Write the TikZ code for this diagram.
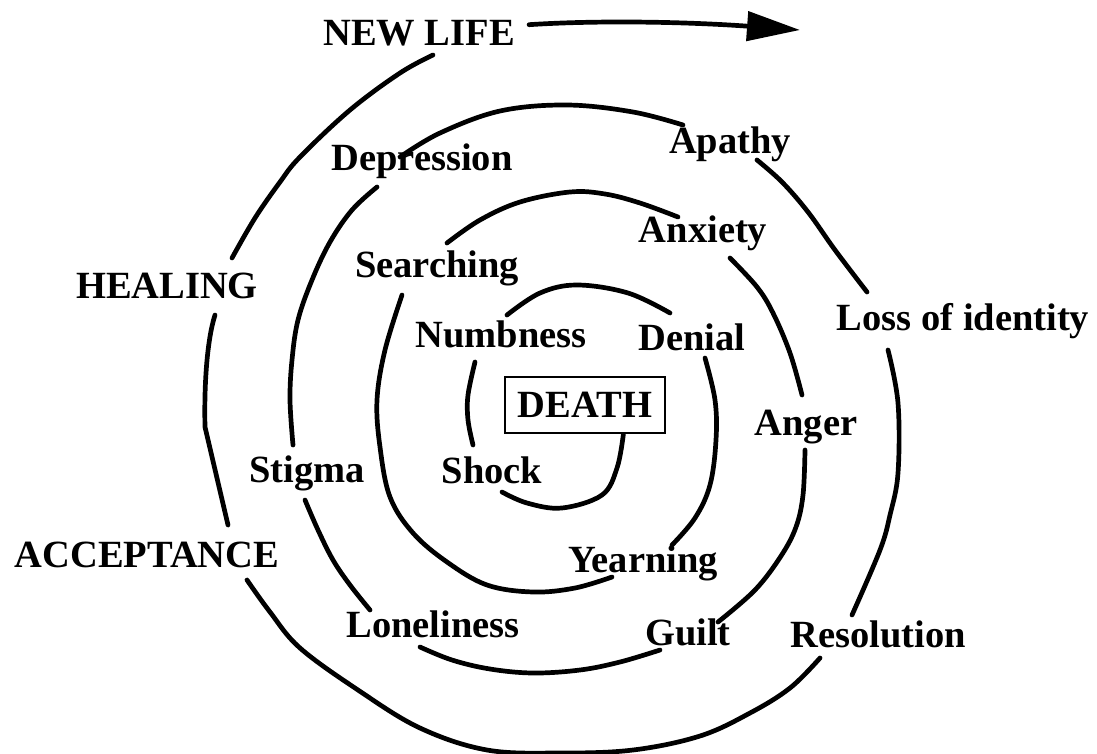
\documentclass[tikz,border=0pt]{standalone}
\usepackage{fontspec}
\setmainfont{Liberation Serif}
\usetikzlibrary{arrows.meta}
\begin{document}
\begin{tikzpicture}[x=1pt,y=-1pt,line width=4.7pt,line cap=round,
    lbl/.style={font=\fontsize{38.5}{40}\selectfont\bfseries,anchor=base,inner sep=0pt},
    sp/.style={smooth,tension=0.6}]
  \useasboundingbox (0,0) rectangle (1097,753);
  % labels round the spiral
  \foreach \nm/\x/\y/\txt in {
      newlife/419/45/{NEW LIFE},
      apathy/730/153/{Apathy},
      depression/422/170/{Depression},
      anxiety/703/242/{Anxiety},
      searching/437/277/{Searching},
      healing/167/298/{HEALING},
      lossid/963/330/{Loss of identity},
      numbness/501/347/{Numbness},
      denial/692/350/{Denial},
      anger/806/435/{Anger},
      stigma/307/482/{Stigma},
      shock/492/483/{Shock},
      acceptance/147/567/{ACCEPTANCE},
      yearning/643/572/{Yearning},
      loneliness/433/637/{Loneliness},
      guilt/688/645/{Guilt},
      resolution/878/647/{Resolution}
    } {
    \node[lbl] (\nm) at (\x,\y) {\txt};
  }
  \node[lbl,anchor=center,draw,line width=2.7pt,minimum width=160pt,minimum height=56pt]
    (death) at (585,405) {DEATH};
  % spiral, from the centre outwards
  \coordinate (tail) at ([xshift=-43pt]death.south east);
  \draw plot[sp] coordinates {(tail) (617,468) (602,495) (562,508) (527,503) (502,492)};
  \draw plot[sp] coordinates {(473,445) (468,420) (468,395) (475,362)};
  \draw plot[sp] coordinates {(507,315) (540,293) (577,285) (628,293) (670,313)};
  \draw plot[sp] coordinates {(705,358) (715,400) (716,440) (710,485) (695,518) (672,545)};
  \draw plot[sp] coordinates {(612,577) (575,588) (533,592) (487,585) (447,562) (413,533)
    (390,497) (380,447) (377,400) (385,350) (402,295)};
  \draw plot[sp] coordinates {(447,243) (480,220) (520,202) (570,192) (605,194) (640,203) (678,217)};
  \draw plot[sp] coordinates {(730,258) (757,287) (773,313) (790,353) (802,395)};
  \draw plot[sp] coordinates {(805,450) (803,495) (796,527) (781,556) (755,590) (718,622)};
  \draw plot[sp] coordinates {(660,650) (620,662) (580,670) (533,673) (490,669) (452,660) (420,647)};
  \draw plot[sp] coordinates {(370,610) (350,585) (333,560) (318,530) (305,500)};
  \draw plot[sp] coordinates {(293,445) (290,400) (292,360) (298,320) (312,280) (330,242) (352,210) (377,187)};
  \draw plot[sp] coordinates {(400,157) (440,133) (500,111) (567,105) (633,112) (683,125)};
  \draw plot[sp] coordinates {(757,160) (782,182) (808,212) (835,250) (867,292)};
  \draw plot[sp] coordinates {(888,350) (898,403) (898,473) (890,515) (880,550) (852,615)};
  \draw plot[sp] coordinates {(820,658) (790,688) (750,713) (700,736) (633,750) (560,753)
    (487,750) (420,728) (358,690) (300,648) (270,612) (247,580)};
  \draw (228,525) -- (205,427) .. controls (204,385) and (207,340) .. (215,315);
  \draw plot[sp] coordinates {(232,258) (255,218) (280,182) (300,157) (350,110) (400,73) (433,55)};
  % way out
  \coordinate (out) at (800,30);
  \draw[-{Triangle[length=53pt,width=29pt]}] ([shift={(12pt,8pt)}]newlife.east)
    .. controls (600,20) and (690,22) .. (out);
\end{tikzpicture}
\end{document}
